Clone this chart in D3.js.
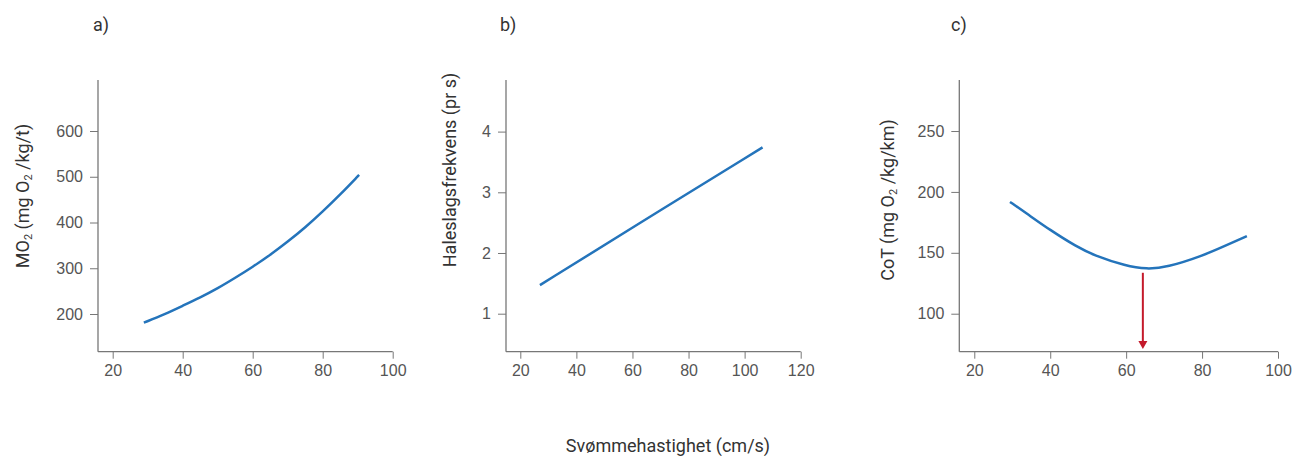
<!DOCTYPE html>
<html>
<head>
<meta charset="utf-8">
<script src="https://cdn.jsdelivr.net/npm/d3@7"></script>
<style>
  body { margin: 0; background: #fff; }
  svg { display: block; font-family: Roboto, "Noto Sans", sans-serif; }
  .tick text { fill: #555; font-size: 16px; font-weight: 300; }
  .domain, .tick line { stroke: #777; }
  .axis-label { fill: #333; font-size: 18px; }
  .panel-label { fill: #333; font-size: 18px; }
</style>
</head>
<body>
<svg id="chart" width="1296" height="456" viewBox="0 0 1296 456"></svg>
<script>
/* ── data ─────────────────────────────────────────────────────────────────── */

// a) oxygen uptake vs swimming speed
const speedA = [28.9, 35, 40, 45, 50, 55, 60, 65, 70, 75, 80, 85, 90.4];
const mo2 = [181, 200, 218, 236, 256, 279, 303, 329, 358, 389, 424, 461, 504];
const ticksAx = [20, 40, 60, 80, 100];
const ticksAy = [200, 300, 400, 500, 600];

// b) tail beat frequency vs swimming speed
const speedB = [27, 60, 106.4];
const tailBeat = [1.47, 2.42, 3.74];
const ticksBx = [20, 40, 60, 80, 100, 120];
const ticksBy = [1, 2, 3, 4];

// c) cost of transport vs swimming speed
const speedC = [29.4, 33.8, 40, 47, 51.4, 60, 65.4, 70.7, 80, 86.5, 91.8];
const cot = [191.8, 182.3, 168.6, 154.9, 148.1, 139.1, 136.6, 138.0, 147.3, 156.3, 163.7];
const ticksCx = [20, 40, 60, 80, 100];
const ticksCy = [100, 150, 200, 250];
const optimalSpeed = 64.4;
const arrowFrom = 133.6;
const arrowTo = 71;

/* ── layout ───────────────────────────────────────────────────────────────── */

const svg = d3.select("#chart");
const plotTop = 80, plotBottom = 351.7;
const BLUE = "#2474bb";
const RED = "#c41a2b";

function panel({ x0, x1, xDomain, yDomain, xTicks, yTicks, xs, ys, tag, tagX, labelX, labelY, label }) {
  const x = d3.scaleLinear().domain(xDomain).range([x0, x1]);
  const y = d3.scaleLinear().domain(yDomain).range([plotBottom, plotTop]);

  svg.append("g")
    .attr("transform", `translate(0,${plotBottom})`)
    .call(d3.axisBottom(x).tickValues(xTicks).tickFormat(d3.format("d"))
      .tickSize(7).tickPadding(6).tickSizeOuter(0))
    .call((g) => g.select(".domain").attr("d", `M${x0},0H${x1}`))
    .call((g) => g.selectAll(".tick text").attr("dy", "0.71em"));

  svg.append("g")
    .attr("transform", `translate(${x0},0)`)
    .call(d3.axisLeft(y).tickValues(yTicks).tickFormat(d3.format("d"))
      .tickSize(8).tickPadding(7).tickSizeOuter(0))
    .call((g) => g.select(".domain").attr("d", `M0,${plotTop}V${plotBottom}`));

  svg.selectAll(".domain").attr("stroke-width", 1.3);

  const line = d3.line()
    .x((d) => x(d[0]))
    .y((d) => y(d[1]))
    .curve(d3.curveBasis);

  svg.append("path")
    .datum(d3.zip(xs, ys))
    .attr("d", line)
    .attr("fill", "none")
    .attr("stroke", BLUE)
    .attr("stroke-width", 2.5);

  svg.append("text")
    .attr("class", "panel-label")
    .attr("x", tagX)
    .attr("y", 31)
    .text(tag);

  const t = svg.append("text")
    .attr("class", "axis-label")
    .attr("text-anchor", "middle")
    .attr("transform", `translate(${labelX},${labelY}) rotate(-90)`);
  label.forEach(([s, sub]) => {
    t.append("tspan")
      .attr("baseline-shift", sub ? "-25%" : null)
      .attr("font-size", sub ? "11px" : null)
      .text(s);
  });

  return { x, y };
}

panel({
  x0: 98, x1: 392.7, xDomain: [15.8, 100], yDomain: [117.6, 711.5],
  xTicks: ticksAx, yTicks: ticksAy, xs: speedA, ys: mo2,
  tag: "a)", tagX: 93, labelX: 29, labelY: 196,
  label: [["MO"], ["2", true], [" (mg O"], ["2", true], [" /kg/t)"]],
});

panel({
  x0: 506, x1: 800.7, xDomain: [14.9, 120], yDomain: [0.374, 4.85],
  xTicks: ticksBx, yTicks: ticksBy, xs: speedB, ys: tailBeat,
  tag: "b)", tagX: 500, labelX: 456, labelY: 170,
  label: [["Haleslagsfrekvens (pr s)"]],
});

const c = panel({
  x0: 959.3, x1: 1278, xDomain: [16.05, 100], yDomain: [68.8, 291.9],
  xTicks: ticksCx, yTicks: ticksCy, xs: speedC, ys: cot,
  tag: "c)", tagX: 951, labelX: 894, labelY: 200,
  label: [["CoT (mg O"], ["2", true], [" /kg/km)"]],
});

// red arrow marking optimal speed
const ax = c.x(optimalSpeed);
svg.append("line")
  .attr("x1", ax).attr("x2", ax)
  .attr("y1", c.y(arrowFrom)).attr("y2", c.y(arrowTo) - 6)
  .attr("stroke", RED)
  .attr("stroke-width", 2);
svg.append("path")
  .attr("d", `M${ax - 4.5},${c.y(arrowTo) - 8}L${ax + 4.5},${c.y(arrowTo) - 8}L${ax},${c.y(arrowTo)}Z`)
  .attr("fill", RED);

svg.append("text")
  .attr("class", "axis-label")
  .attr("x", 668)
  .attr("y", 452)
  .attr("text-anchor", "middle")
  .text("Svømmehastighet (cm/s)");
</script>
</body>
</html>
